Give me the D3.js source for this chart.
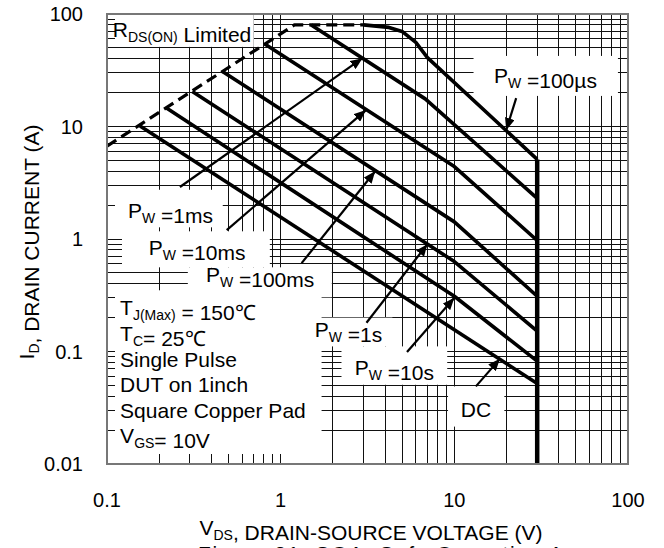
<!DOCTYPE html>
<html>
<head>
<meta charset="utf-8">
<script src="https://cdn.jsdelivr.net/npm/d3@7"></script>
<style>
  body { margin: 0; background: #fff; }
  text { font-family: "Liberation Sans", Arial, sans-serif; fill: #000; }
</style>
</head>
<body>
<div id="chart"></div>
<script>
// Safe operating area (V, A).
var rdsLimit = [[0.1, 6.7], [1.2, 80], [3, 80]];
var pw100us = [[3, 80], [4.2, 76], [5, 70], [6, 56], [7, 41], [30, 5.1]];
var pw1ms = [[1.5, 80], [6.8, 17.6], [30, 2.3]];
var pw10ms = [[0.81, 54], [10, 4.4], [30, 0.97]];
var pw100ms = [[0.46, 31], [10, 1.42], [30, 0.31]];
var pw1s = [[0.31, 20.5], [10, 0.63], [30, 0.152]];
var pw10s = [[0.22, 14.6], [10, 0.31], [30, 0.082]];
var pwDC = [[0.155, 10.1], [30, 0.052]];
var bvLimit = [[30, 5.1], [30, 0.01]];

var xTickLabels = ["0.1", "1", "10", "100"];
var yTickLabels = ["0.01", "0.1", "1", "10", "100"];

// arrows: tail -> head, in (V, A)
var arrows = [
  [[22.7, 17.9], [19.9, 9.3]],
  [[0.263, 2.9], [2.96, 40.5]],
  [[0.489, 1.2], [3.1, 14]],
  [[1.32, 0.61], [3.5, 4.0]],
  [[3.12, 0.18], [7.0, 0.9]],
  [[5.34, 0.099], [10, 0.3]],
  [[13.3, 0.049], [18.3, 0.086]]
];

// white backgrounds behind the labels: [v0, v1, i0, i1]
var labelBoxes = [
  [0.1, 0.7, 100, 51],
  [12.9, 87.5, 42.4, 18.7],
  [0.1, 0.464, 2.74, 1.27],
  [0.122, 0.866, 1.17, 0.56],
  [0.292, 1.97, 0.56, 0.303],
  [0.1, 1.72, 0.35, 0.01],
  [1.51, 4.4, 0.2, 0.111],
  [2.24, 9.1, 0.111, 0.0506],
  [9.2, 19.4, 0.0489, 0.0215]
];

var labels = [
  {v: 0.108, i: 62.5, parts: [["R", ""], ["DS(ON)", "sub"], [" Limited", ""]]},
  {v: 16.9, i: 24.4, parts: [["P", ""], ["W", "sub"], [" =100\u00b5s", ""]]},
  {v: 0.132, i: 1.54, parts: [["P", ""], ["W", "sub"], [" =1ms", ""]]},
  {v: 0.174, i: 0.72, parts: [["P", ""], ["W", "sub"], [" =10ms", ""]]},
  {v: 0.371, i: 0.415, parts: [["P", ""], ["W", "sub"], [" =100ms", ""]]},
  {v: 1.57, i: 0.135, parts: [["P", ""], ["W", "sub"], [" =1s", ""]]},
  {v: 2.67, i: 0.062, parts: [["P", ""], ["W", "sub"], [" =10s", ""]]},
  {v: 10.9, i: 0.0264, parts: [["DC", ""]]}
];

var conditions = [
  [["T", ""], ["J(Max)", "sub"], [" = 150\u2103", ""]],
  [["T", ""], ["C", "sub"], ["= 25\u2103", ""]],
  [["Single Pulse", ""]],
  [["DUT on 1inch", ""]],
  [["Square Copper Pad", ""]],
  [["V", ""], ["GS", "sub"], ["= 10V", ""]]
];
var conditionsAt = {v: 0.119, i: 0.209};

var width = 664, height = 548;
var svg = d3.select("#chart").append("svg")
  .attr("width", width)
  .attr("height", height);

var x = d3.scaleLog().domain([0.1, 100]).range([107, 628]);
var y = d3.scaleLog().domain([0.01, 100]).range([464, 14]);

// grid
var grid = svg.append("g").attr("stroke", "#111").attr("stroke-width", 1)
  .attr("shape-rendering", "crispEdges");
grid.selectAll(".vx").data(x.ticks()).enter().append("line")
  .attr("x1", d => x(d)).attr("x2", d => x(d))
  .attr("y1", y.range()[1]).attr("y2", y.range()[0]);
grid.selectAll(".hy").data(y.ticks()).enter().append("line")
  .attr("y1", d => y(d)).attr("y2", d => y(d))
  .attr("x1", x.range()[0]).attr("x2", x.range()[1]);

// label boxes hide the grid
svg.append("g").selectAll("rect").data(labelBoxes).enter().append("rect")
  .attr("x", d => x(d[0]))
  .attr("y", d => y(d[2]))
  .attr("width", d => x(d[1]) - x(d[0]))
  .attr("height", d => y(d[3]) - y(d[2]))
  .attr("fill", "#fff");

// inward ticks on left and bottom edges
var ticks = svg.append("g").attr("stroke", "#111").attr("stroke-width", 1)
  .attr("shape-rendering", "crispEdges");
ticks.selectAll(".ty").data(y.ticks()).enter().append("line")
  .attr("x1", x.range()[0]).attr("x2", x.range()[0] + 8)
  .attr("y1", d => y(d)).attr("y2", d => y(d));
ticks.selectAll(".tx").data(x.ticks()).enter().append("line")
  .attr("x1", d => x(d)).attr("x2", d => x(d))
  .attr("y1", y.range()[0]).attr("y2", y.range()[0] - 10);

var line = d3.line().x(d => x(d[0])).y(d => y(d[1]));

svg.append("path").datum(rdsLimit)
  .attr("d", line).attr("fill", "none").attr("stroke", "#000")
  .attr("stroke-width", 3.2).attr("stroke-dasharray", "11,6");

var curves = [pw100us, pw1ms, pw10ms, pw100ms, pw1s, pw10s, pwDC];
svg.append("g").selectAll("path").data(curves).enter().append("path")
  .attr("d", line).attr("fill", "none").attr("stroke", "#000")
  .attr("stroke-width", 3.6).attr("stroke-linejoin", "round");

svg.append("path").datum(bvLimit)
  .attr("d", line).attr("fill", "none").attr("stroke", "#000")
  .attr("stroke-width", 4.5);

// arrows
svg.append("defs").append("marker")
  .attr("id", "head")
  .attr("markerUnits", "userSpaceOnUse")
  .attr("viewBox", "0 0 12 10")
  .attr("refX", 12).attr("refY", 5)
  .attr("markerWidth", 12).attr("markerHeight", 10)
  .attr("orient", "auto")
  .append("path").attr("d", "M0,0L12,5L0,10Z").attr("fill", "#000");

svg.append("g").selectAll("line").data(arrows).enter().append("line")
  .attr("x1", d => x(d[0][0])).attr("y1", d => y(d[0][1]))
  .attr("x2", d => x(d[1][0])).attr("y2", d => y(d[1][1]))
  .attr("stroke", "#000").attr("stroke-width", 2.2)
  .attr("marker-end", "url(#head)");

// frame
svg.append("rect")
  .attr("x", x.range()[0]).attr("y", y.range()[1])
  .attr("width", x.range()[1] - x.range()[0])
  .attr("height", y.range()[0] - y.range()[1])
  .attr("fill", "none").attr("stroke", "#777").attr("stroke-width", 2);

function writeParts(sel, parts) {
  parts.forEach(p => {
    if (p[1] == "sub") {
      sel.append("tspan").attr("font-size", 14).attr("dy", 5).text(p[0]);
      sel.append("tspan").attr("dy", -5).text("");
    } else {
      sel.append("tspan").text(p[0]);
    }
  });
}

labels.forEach(l => {
  var t = svg.append("text")
    .attr("x", x(l.v)).attr("y", y(l.i))
    .attr("font-size", 21);
  writeParts(t, l.parts);
});

conditions.forEach((parts, k) => {
  var t = svg.append("text")
    .attr("x", x(conditionsAt.v)).attr("y", y(conditionsAt.i) + k * 25.6)
    .attr("font-size", 21);
  writeParts(t, parts);
});

// axis tick labels
svg.append("g").selectAll("text").data(xTickLabels).enter().append("text")
  .attr("x", d => x(+d)).attr("y", 507)
  .attr("text-anchor", "middle").attr("font-size", 20)
  .text(d => d);

svg.append("g").selectAll("text").data(yTickLabels).enter().append("text")
  .attr("x", 83).attr("y", d => y(+d) + 7)
  .attr("text-anchor", "end").attr("font-size", 20)
  .text(d => d);

// axis titles
var xt = svg.append("text")
  .attr("x", 371).attr("y", 535)
  .attr("text-anchor", "middle").attr("font-size", 21);
writeParts(xt, [["V", ""], ["DS", "sub"], [", DRAIN-SOURCE VOLTAGE (V)", ""]]);

var yt = svg.append("text")
  .attr("transform", "translate(34,242) rotate(-90)")
  .attr("text-anchor", "middle").attr("font-size", 21);
writeParts(yt, [["I", ""], ["D", "sub"], [", DRAIN CURRENT (A)", ""]]);

// caption, mostly below the visible area
svg.append("text")
  .attr("x", 198).attr("y", 561)
  .attr("font-size", 21)
  .attr("textLength", 400).attr("lengthAdjust", "spacing")
  .text("Figure 21. SOA, Safe Operating Area");
</script>
</body>
</html>
